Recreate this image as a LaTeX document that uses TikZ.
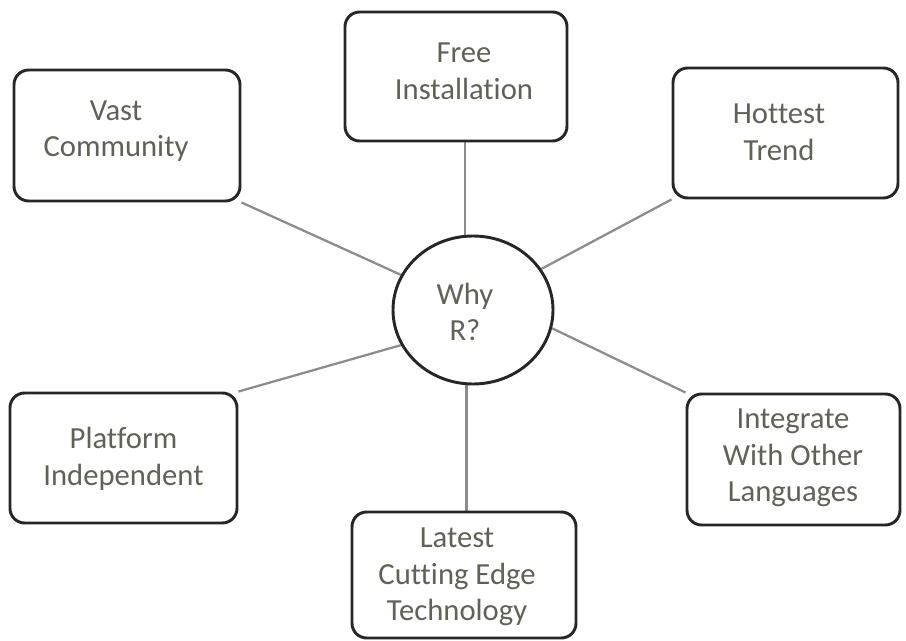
\documentclass[tikz,border=0pt]{standalone}
\usepackage{fontspec}
\setmainfont[Ligatures={NoCommon}]{Carlito}
\usetikzlibrary{shapes.geometric,backgrounds}
\definecolor{txt}{RGB}{96,98,88}
\definecolor{lnk}{RGB}{140,140,140}
\begin{document}
\begin{tikzpicture}[x=0.75pt,y=-0.75pt,
  box/.style 2 args={draw=black!85,line width=2.2pt,rounded corners=11pt,fill=white,
    minimum width=#1*0.75pt,minimum height=#2*0.75pt,inner sep=0pt},
  hub/.style={draw=black!85,line width=2.2pt,ellipse,fill=white,
    minimum width=160*0.75pt,minimum height=148*0.75pt,inner sep=0pt},
  lbl/.style={inner sep=0pt,align=center,text=txt,font=\fontsize{23}{27.5}\selectfont},
  link/.style={draw=lnk,line width=1.7pt}]
\useasboundingbox (0,0) rectangle (906,641);
\node[hub] (why) at (473,310) {};
\node[box={222}{129}] (free) at (456,76.5) {};
\node[box={226}{131}] (vast) at (127,135.5) {};
\node[box={225}{130}] (hot) at (785.5,133) {};
\node[box={227}{130}] (plat) at (123.5,458) {};
\node[box={213}{131}] (integ) at (793.5,459.5) {};
\node[box={224}{126}] (late) at (464,575) {};
\node[lbl] (why-t) at (465,312) {Why\\R?};
\node[lbl] (free-t) at (464,71) {Free\\Installation};
\node[lbl] (vast-t) at (116,131) {Vast\\Community};
\node[lbl] (hot-t) at (779,132) {Hottest\\Trend};
\node[lbl] (plat-t) at (123.5,458.5) {Platform\\Independent};
\node[lbl] (integ-t) at (793,458) {Integrate\\With Other\\Languages};
\node[lbl] (late-t) at (457,577) {Latest\\Cutting Edge\\Technology};
\begin{pgfonlayer}{background}
\draw[link] (vast.south east) -- (why.154);
\draw[link] (hot.south west) -- (why.31);
\draw[link] (plat.north east) -- (why.206);
\draw[link] (integ.north west) -- (why.347);
\draw[link] (why.96) -- (why.96 |- free.south);
\draw[link] (why.265) -- (why.265 |- late.north);
\end{pgfonlayer}
\end{tikzpicture}
\end{document}
